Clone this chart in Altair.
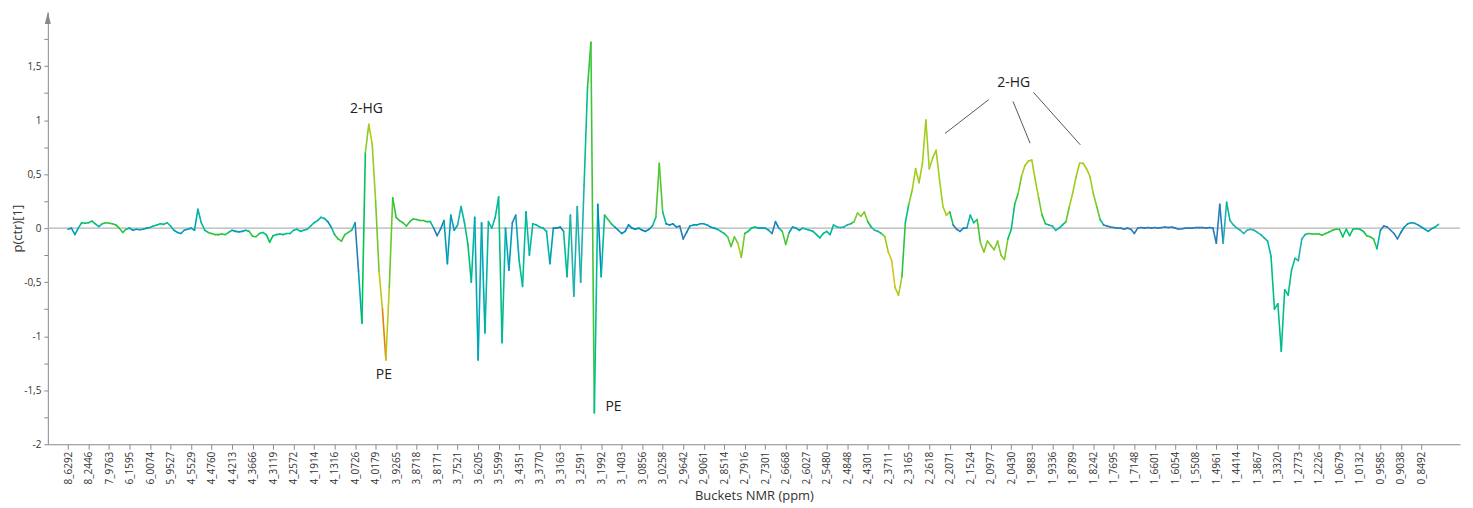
import altair as alt
import pandas as pd

# ---- data ----
TICK_LABELS = [
    "8_6292", "8_2446", "7_9763", "6_1595", "6_0074", "5_9527", "4_5529", "4_4760",
    "4_4213", "4_3666", "4_3119", "4_2572", "4_1914", "4_1316", "4_0726", "4_0179",
    "3_9265", "3_8718", "3_8171", "3_7521", "3_6205", "3_5599", "3_4351", "3_3770",
    "3_3163", "3_2591", "3_1992", "3_1403", "3_0856", "3_0258", "2_9642", "2_9061",
    "2_8514", "2_7916", "2_7301", "2_6668", "2_6027", "2_5480", "2_4848", "2_4301",
    "2_3711", "2_3165", "2_2618", "2_2071", "2_1524", "2_0977", "2_0430", "1_9883",
    "1_9336", "1_8789", "1_8242", "1_7695", "1_7148", "1_6601", "1_6054", "1_5508",
    "1_4961", "1_4414", "1_3867", "1_3320", "1_2773", "1_2226", "1_0679", "1_0132",
    "0_9585", "0_9038", "0_8492",
]
BUCKETS_PER_TICK = 6

VALUES = [
    -0.01, 0.00, -0.06, 0.0, 0.05, 0.045, 0.05, 0.065, 0.04, 0.015,
    0.04, 0.05, 0.045, 0.04, 0.03, 0.0, -0.04, -0.01, 0.0, -0.02,
    -0.01, -0.015, -0.01, 0.0, 0.005, 0.02, 0.03, 0.04, 0.035, 0.05,
    0.02, -0.02, -0.04, -0.05, -0.02, -0.01, 0.0, -0.02, 0.175, 0.05,
    -0.02, -0.04, -0.05, -0.06, -0.06, -0.055, -0.06, -0.04, -0.02, -0.03,
    -0.035, -0.03, -0.02, -0.03, -0.075, -0.08, -0.05, -0.04, -0.06, -0.13,
    -0.07, -0.06, -0.055, -0.06, -0.05, -0.05, -0.02, -0.01, -0.03, -0.02,
    -0.01, 0.02, 0.05, 0.07, 0.10, 0.09, 0.06, 0.01, -0.06, -0.10,
    -0.12, -0.06, -0.04, -0.02, 0.05, -0.40, -0.88, 0.70, 0.96, 0.78,
    0.25, -0.40, -0.75, -1.22, -0.55, 0.28, 0.10, 0.07, 0.05, 0.02,
    0.06, 0.085, 0.08, 0.07, 0.07, 0.06, 0.06, 0.0, -0.07, -0.01,
    0.07, -0.33, 0.12, -0.02, 0.03, 0.20, 0.05, -0.15, -0.50, 0.10,
    -1.22, 0.05, -0.97, 0.06, 0.0, 0.10, 0.29, -1.06, 0.0, -0.39,
    0.05, 0.12, -0.30, -0.54, 0.15, -0.25, 0.04, 0.03, 0.01, 0.0,
    -0.03, -0.33, 0.0, 0.0, 0.01, -0.03, -0.45, 0.12, -0.63, 0.20,
    -0.50, 0.40, 1.30, 1.72, -1.71, 0.22, -0.45, 0.12, 0.08, 0.04,
    0.01, -0.02, -0.05, -0.03, 0.03, 0.0, -0.01, 0.0, -0.02, -0.03,
    -0.01, 0.02, 0.10, 0.60, 0.15, 0.04, 0.03, 0.04, 0.01, 0.02,
    -0.10, -0.04, 0.02, 0.03, 0.03, 0.04, 0.04, 0.03, 0.01, 0.0,
    -0.01, -0.03, -0.05, -0.08, -0.17, -0.08, -0.14, -0.27, -0.05, -0.03,
    0.0, 0.01, 0.0, 0.0, 0.0, -0.02, -0.05, 0.06, 0.0, -0.03,
    -0.15, -0.04, 0.01, 0.0, -0.02, 0.0, -0.01, -0.02, -0.03, -0.06,
    -0.09, -0.05, -0.03, -0.06, 0.03, 0.01, 0.005, 0.01, 0.03, 0.04,
    0.06, 0.14, 0.11, 0.15, 0.06, 0.01, -0.02, -0.03, -0.05, -0.08,
    -0.22, -0.30, -0.55, -0.62, -0.45, 0.05, 0.22, 0.35, 0.55, 0.42,
    0.60, 1.00, 0.55, 0.65, 0.72, 0.45, 0.20, 0.12, 0.15, 0.03,
    -0.01, -0.03, 0.0, 0.0, 0.12, 0.05, 0.08, -0.14, -0.22, -0.12,
    -0.16, -0.20, -0.12, -0.25, -0.29, -0.10, -0.01, 0.22, 0.32, 0.48,
    0.58, 0.62, 0.63, 0.45, 0.28, 0.12, 0.04, 0.03, 0.02, -0.02,
    0.0, 0.03, 0.06, 0.20, 0.33, 0.48, 0.60, 0.60, 0.55, 0.48,
    0.32, 0.20, 0.08, 0.03, 0.02, 0.01, 0.005, 0.0, 0.0, -0.01,
    0.0, -0.01, -0.05, 0.0, 0.005, 0.0, 0.005, 0.0, 0.005, 0.0,
    0.005, 0.01, 0.005, 0.01, 0.0, -0.01, -0.005, 0.0, 0.0, 0.0,
    0.005, 0.005, 0.005, 0.0, 0.005, 0.0, -0.14, 0.22, -0.14, 0.24,
    0.07, 0.03, 0.0, -0.02, -0.05, -0.02, -0.01, -0.02, -0.04, -0.06,
    -0.09, -0.12, -0.26, -0.75, -0.70, -1.14, -0.57, -0.62, -0.39, -0.28,
    -0.30, -0.10, -0.06, -0.05, -0.055, -0.055, -0.055, -0.065, -0.05, -0.035,
    -0.02, -0.01, -0.01, -0.08, -0.01, -0.07, -0.01, -0.005, -0.01, -0.03,
    -0.07, -0.08, -0.10, -0.19, -0.02, 0.02, 0.01, -0.02, -0.05, -0.10,
    -0.04, 0.01, 0.04, 0.05, 0.045, 0.03, 0.01, -0.01, -0.03, -0.005,
    0.01, 0.035,
]

# colour level (0 = blue ... 1 = orange), given as (first bucket, level) runs
COLOR_RUNS = [
    (0, 0.2), (4, 0.4), (9, 0.15), (10, 0.45), (18, 0.2), (25, 0.35), (31, 0.2),
    (38, 0.25), (39, 0.3), (41, 0.45), (48, 0.2), (53, 0.45), (57, 0.35), (59, 0.5),
    (60, 0.35), (65, 0.3), (76, 0.15), (78, 0.45), (84, 0.1), (86, 0.35), (87, 0.5),
    (88, 0.75), (90, 0.6), (91, 0.55), (92, 1.0), (93, 0.9), (94, 0.65), (95, 0.45),
    (107, 0.1), (110, 0.2), (115, 0.3), (117, 0.4), (119, 0.15), (120, 0.3), (121, 0.15),
    (122, 0.3), (127, 0.45), (128, 0.15), (129, 0.3), (130, 0.1), (132, 0.35), (134, 0.3),
    (141, 0.25), (142, 0.15), (146, 0.45), (147, 0.25), (152, 0.45), (154, 0.5), (155, 0.15),
    (157, 0.45), (160, 0.15), (172, 0.5), (175, 0.15), (180, 0.1), (182, 0.2), (191, 0.4),
    (194, 0.6), (195, 0.4), (196, 0.75), (198, 0.4), (202, 0.2), (207, 0.05), (208, 0.25),
    (210, 0.75), (211, 0.2), (216, 0.3), (220, 0.35), (224, 0.25), (230, 0.6), (235, 0.25),
    (238, 0.5), (240, 0.85), (243, 0.7), (245, 0.2), (246, 0.5), (247, 0.7), (257, 0.75),
    (259, 0.12), (264, 0.35), (267, 0.6), (276, 0.25), (277, 0.45), (279, 0.7), (285, 0.45),
    (287, 0.25), (291, 0.4), (293, 0.7), (301, 0.55), (303, 0.12), (337, 0.1), (339, 0.4),
    (340, 0.25), (352, 0.35), (360, 0.25), (363, 0.45), (373, 0.4), (380, 0.45), (384, 0.1),
    (391, 0.2), (401, 0.5),
]
COLOR_STOPS = [0.12, 0.25, 0.45, 0.7, 0.85, 1.0]
COLOR_RANGE = ["#2b7bba", "#1fb0b0", "#2cc43a", "#a2cd1c", "#d2c41c", "#e35a24"]

ANNOT_TEXT = ["2-HG", "PE", "PE", "2-HG"]
ANNOT_X = [87.3, 92.4, 159.6, 276.7]
ANNOT_Y = [1.106, -1.364, -1.659, 1.346]

LEADER_X = [256.6, 276.5, 282.5]
LEADER_Y = [0.876, 1.173, 1.256]
LEADER_X2 = [269.4, 281.5, 296.2]
LEADER_Y2 = [1.189, 0.786, 0.771]

Y_TICKS = [-2 + 0.25 * k for k in range(16)]

# ---- build tables ----
n = len(VALUES)
levels = []
run_i = 0
for j in range(n):
    while run_i + 1 < len(COLOR_RUNS) and COLOR_RUNS[run_i + 1][0] <= j:
        run_i += 1
    levels.append(COLOR_RUNS[run_i][1])

seg = pd.DataFrame({
    "j": list(range(n - 1)),
    "j2": list(range(1, n)),
    "v": VALUES[:-1],
    "v2": VALUES[1:],
    "c": [(levels[i] + levels[i + 1]) / 2 for i in range(n - 1)],
})

annot = pd.DataFrame({"t": ANNOT_TEXT, "j": ANNOT_X, "v": ANNOT_Y})
leaders = pd.DataFrame({"j": LEADER_X, "v": LEADER_Y, "j2": LEADER_X2, "v2": LEADER_Y2})

FONT = "Open Sans"
x_scale = alt.Scale(domain=[-5.91, 407.3], nice=False, zero=False)
y_scale = alt.Scale(domain=[-2, 2], nice=False, zero=False)

label_arr = "[" + ",".join("'" + t + "'" for t in TICK_LABELS) + "]"
x_axis = alt.Axis(
    values=[i * BUCKETS_PER_TICK for i in range(len(TICK_LABELS))],
    labelExpr=label_arr + "[round(datum.value/" + str(BUCKETS_PER_TICK) + ")]",
    labelAngle=-90, labelFontSize=10, labelColor="#333333", labelFont=FONT,
    labelPadding=2, tickSize=5, tickColor="#8a8a8a", domainColor="#8a8a8a",
    grid=False, title="Buckets NMR (ppm)", titleFont=FONT, titleFontSize=13,
    titleFontWeight="normal", titleColor="#333333", titleY=51, titleBaseline="middle",
    labelOverlap=False, labelBound=False, labelFlush=False,
)
y_axis = alt.Axis(
    values=Y_TICKS,
    labelExpr="abs(datum.value*2 - round(datum.value*2)) < 0.001 ? replace(toString(datum.value), '.', ',') : ''",
    labelFontSize=10, labelColor="#333333", labelFont=FONT, labelPadding=3,
    tickSize=4, tickColor="#8a8a8a", domainColor="#8a8a8a", grid=False,
    title="p(ctr)[1]", titleFont=FONT, titleFontSize=13, titleFontWeight="normal",
    titleColor="#333333", titleX=-30, titleY=217, titleAlign="center",
    titleBaseline="middle", labelOverlap=False,
)

X = alt.X("j:Q", scale=x_scale, axis=x_axis)
Y = alt.Y("v:Q", scale=y_scale, axis=y_axis)

zero = alt.Chart(pd.DataFrame({"v": [0.0]})).mark_rule(
    color="#b4b4b4", strokeWidth=1.5
).encode(y=Y)

lines = alt.Chart(seg).mark_rule(strokeWidth=1.6, strokeCap="round").encode(
    x=X, x2="j2:Q", y=Y, y2="v2:Q",
    color=alt.Color("c:Q", scale=alt.Scale(domain=COLOR_STOPS, range=COLOR_RANGE, clamp=True), legend=None),
)

lead = alt.Chart(leaders).mark_rule(color="#444444", strokeWidth=0.9).encode(
    x=X, x2="j2:Q", y=Y, y2="v2:Q"
)

texts = alt.Chart(annot).mark_text(fontSize=14, font=FONT, color="#222222").encode(
    x=X, y=Y, text="t:N"
)

arrow = alt.Chart(pd.DataFrame({"a": [0]})).mark_point(
    shape="M0,-1L0.5,1L-0.5,1Z", filled=True, color="#8a8a8a", size=144, opacity=1
).encode(x=alt.value(0), y=alt.value(6))

chart = alt.layer(zero, lines, lead, texts, arrow).properties(
    width=1418, height=434,
    padding={"left": 40, "top": 3, "right": 5, "bottom": 65},
    autosize=alt.AutoSizeParams(type="none"),
).configure_view(stroke=None).configure_axisX(labelOverlap=False)

chart.save("out.html", embed_options={"renderer": "svg", "actions": False})
